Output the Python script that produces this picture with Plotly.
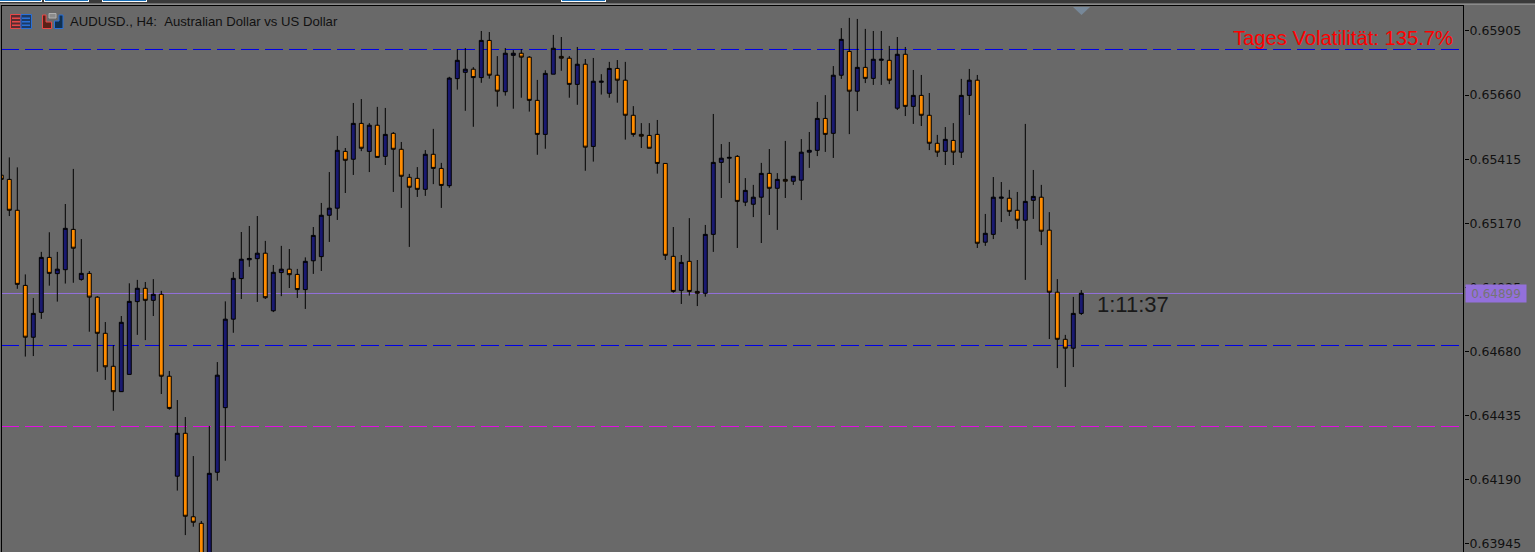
import plotly.graph_objects as go

# Prices are stored in points (1 point = 0.00001)
POINT = 1e-5
opens_pts = [65354,65338,65220,64933,64735,64830,65040,64978,64993,65147,64956,64979,64888,64750,64624,64527,64593,64871,64922,64876,
64899,64586,64204,64368,64049,64024,63852,64219,64466,64804,64959,65031,65035,65056,64836,64982,64995,64975,64917,65027,
65043,65201,65228,65445,65415,65552,65445,65545,65426,65514,65453,65346,65342,65300,65434,65380,65314,65723,65747,65759,
65727,65869,65736,65673,65812,65820,65805,65640,65510,65740,65808,65801,65701,65778,65464,65709,65667,65762,65717,65583,
65510,65506,65510,65399,65044,64914,65025,64910,64903,65128,65403,65419,65426,65251,65243,65270,65361,65304,65338,65331,
65335,65442,65449,65571,65514,65736,65827,65675,65766,65724,65793,65793,65610,65816,65617,65659,65583,65476,65445,65487,
65442,65659,65717,65098,65128,65266,65266,65220,65182,65258,65270,65144,64907,64727,64693,64826]
highs_pts = [65354,65422,65384,64975,64885,65061,65136,65061,65244,65378,65110,64988,64892,64793,64705,64816,64941,64954,64946,64957,
64912,64606,64495,64430,64281,64033,64396,64640,64872,64984,65137,65160,65198,65103,65011,65084,65072,64996,65040,65156,
65248,65366,65504,65458,65630,65645,65553,65615,65611,65519,65481,65359,65385,65450,65531,65401,65730,65835,65840,65767,
65905,65901,65809,65840,65832,65836,65809,65718,65755,65890,65882,65809,65844,65798,65802,65740,65787,65794,65787,65618,
65553,65553,65565,65399,65156,65049,65190,65030,65164,65588,65473,65481,65431,65343,65317,65401,65454,65362,65485,65350,
65492,65519,65634,65660,65771,65916,65955,65951,65913,65905,65905,65848,65882,65844,65756,65737,65668,65508,65538,65553,
65722,65760,65737,65206,65347,65328,65298,65290,65550,65374,65317,65213,64957,64744,64889,64915]
lows_pts = [65338,65198,64920,64661,64663,64805,64932,64871,64940,64943,64951,64756,64603,64572,64454,64526,64593,64744,64724,64816,
64518,64458,64149,63979,64011,63840,63840,64187,64263,64752,64881,65004,64870,64881,64831,64892,64923,64885,64843,64977,
64988,65099,65183,65286,65355,65446,65366,65422,65393,65290,65229,65080,65271,65275,65320,65229,65306,65681,65600,65539,
65707,65723,65616,65658,65608,65650,65597,65432,65455,65740,65753,65650,65623,65371,65406,65662,65650,65631,65490,65501,
65458,65457,65360,65030,64905,64862,64894,64854,64890,65061,65267,65324,65076,65236,65194,65095,65202,65145,65267,65317,
65259,65382,65427,65443,65420,65722,65511,65599,65706,65699,65699,65702,65603,65580,65550,65542,65450,65424,65393,65393,
65420,65584,65076,65084,65110,65175,65198,65149,64954,65187,65087,64728,64617,64545,64621,64820]
closes_pts = [65338,65220,64937,64735,64826,65040,64979,64995,65151,65075,64979,64888,64750,64622,64527,64792,64872,64922,64876,64899,
64586,64463,64368,64051,64028,63852,64215,64590,64804,64960,65033,65036,65056,64886,64983,64995,64974,64917,65025,65124,
65201,65228,65449,65411,65552,65457,65545,65422,65510,65453,65350,65308,65300,65434,65380,65315,65725,65793,65759,65727,
65869,65736,65675,65820,65820,65805,65640,65510,65743,65839,65801,65701,65778,65461,65713,65713,65762,65717,65583,65510,
65503,65457,65399,65048,64910,65021,64910,64903,65128,65403,65419,65422,65254,65296,65270,65361,65304,65338,65331,65350,
65442,65449,65571,65510,65736,65873,65675,65766,65724,65797,65797,65717,65816,65617,65659,65583,65476,65442,65491,65442,
65659,65717,65094,65132,65270,65270,65216,65182,65254,65273,65140,64907,64727,64693,64826,64903]
bar_index = list(range(len(opens_pts)))

tick_values = [0.65905, 0.65660, 0.65415, 0.65170, 0.64925, 0.64680, 0.64435, 0.64190, 0.63945]
level_prices = [0.658343, 0.647034]
magenta_price = 0.643939
bid_price = 0.649021
bid_label = "0.64899"
title_text = "AUDUSD., H4:\u00a0\u00a0Australian Dollar vs US Dollar"
vol_text = "Tages Volatilit\u00e4t: 135.7%"
timer_text = "1:11:37"

BG = "#696969"
W, H = 1535, 552
L, R, T, B = 1, 71, 5, 0
PW, PH = W - L - R, H - T - B

def px(x):
    return (x - L) / PW

def py(y):
    return 1 - (y - T) / PH

def rect(x0, y0, x1, y1, fill, line=None, lw=1):
    return dict(type="rect", xref="paper", yref="paper", x0=px(x0), x1=px(x1), y0=py(y0), y1=py(y1),
                fillcolor=fill, line=dict(color=line or fill, width=lw if line else 0), layer="above")

fig = go.Figure(go.Candlestick(
    x=bar_index,
    open=[v * POINT for v in opens_pts],
    high=[v * POINT for v in highs_pts],
    low=[v * POINT for v in lows_pts],
    close=[v * POINT for v in closes_pts],
    increasing=dict(line=dict(color="#000000", width=1), fillcolor="#191970"),
    decreasing=dict(line=dict(color="#000000", width=1), fillcolor="#FF8C00"),
    whiskerwidth=0,
    hoverinfo="skip",
    showlegend=False,
))

shapes = []
for p in level_prices:
    shapes.append(dict(type="line", xref="paper", yref="y", x0=0, x1=1, y0=p, y1=p, layer="below",
                       line=dict(color="#0000e6", width=1, dash="18px,6px")))
shapes.append(dict(type="line", xref="paper", yref="y", x0=0, x1=1, y0=magenta_price, y1=magenta_price, layer="below",
                   line=dict(color="#e010e0", width=1, dash="18px,6px")))
shapes.append(dict(type="line", xref="paper", yref="y", x0=0, x1=1, y0=bid_price, y1=bid_price, layer="below",
                   line=dict(color="#9370DB", width=1)))

# window chrome
shapes += [
    rect(0, 0, W, 3.5, "#3a3a3a"),
    rect(0, 3.5, W, 5, "#8a8a8a"),
    rect(0, 0, 42, 2, "#ffffff"), rect(0, 0, 41, 1, "#1a70b8"),
    rect(44, 0, 89, 2, "#ffffff"), rect(45, 0, 88, 1, "#1a70b8"),
    rect(102, 0, 147, 2, "#ffffff"), rect(103, 0, 146, 1, "#1a70b8"),
    rect(561, 0, 606, 2, "#ffffff"), rect(562, 0, 605, 1, "#1a70b8"),
    rect(1, 5, 2, H, "#000000"),
    rect(1, 5, 1464, 6, "#000000"),
    rect(1463, 5, 1464, H, "#000000"),
    # chart-shift marker
    dict(type="path", xref="paper", yref="paper", layer="above", fillcolor="#778899", line=dict(width=0),
         path=f"M {px(1073)},{py(7)} L {px(1090)},{py(7)} L {px(1081.5)},{py(15)} Z"),
    # toolbar icons
    rect(10.5, 14.5, 21, 28.5, "#5a2c30", "#e84848", 1),
    rect(21, 14.5, 31.5, 28.5, "#1c3a66", "#2a70d8", 1),
    rect(12, 17.5, 20, 19, "#e84848"), rect(12, 21, 20, 22.5, "#e84848"), rect(12, 24.5, 20, 26, "#e84848"),
    rect(22, 17.5, 30, 19, "#2a70d8"), rect(22, 21, 30, 22.5, "#2a70d8"), rect(22, 24.5, 30, 26, "#2a70d8"),
    dict(type="path", xref="paper", yref="paper", layer="above", fillcolor="#5a2018",
         line=dict(color="#e84848", width=1),
         path=f"M {px(42.5)},{py(15)} L {px(46)},{py(15)} L {px(46)},{py(22)} L {px(51.5)},{py(22)} L {px(51.5)},{py(28.5)} L {px(42.5)},{py(28.5)} Z"),
    dict(type="path", xref="paper", yref="paper", layer="above", fillcolor="#103050",
         line=dict(color="#2a70d8", width=1),
         path=f"M {px(59)},{py(15)} L {px(63)},{py(15)} L {px(63)},{py(28.5)} L {px(54.5)},{py(28.5)} L {px(54.5)},{py(21)} L {px(59)},{py(21)} Z"),
    rect(49, 13.5, 56, 18, "#8c8c8c", "#b0b0b0", 1),
]

annotations = [
    dict(xref="paper", yref="paper", x=px(69), y=py(22), text=title_text, showarrow=False, xanchor="left", yanchor="middle",
         font=dict(family="Liberation Sans", size=13.15, color="#111111"), borderpad=0),
    dict(xref="paper", yref="paper", x=px(1453.5), y=py(38), text=vol_text, showarrow=False, xanchor="right", yanchor="middle",
         font=dict(family="Liberation Sans", size=20.2, color="#ff0000"), borderpad=0),
    dict(xref="paper", yref="paper", x=px(1096), y=py(304.5), text=timer_text, showarrow=False, xanchor="left", yanchor="middle",
         font=dict(family="Liberation Sans", size=22, color="#1a1a1a"), borderpad=0),
    dict(xref="paper", yref="paper", x=px(1464.5), y=py(293.5), text=bid_label, showarrow=False, xanchor="left", yanchor="middle",
         font=dict(family="DejaVu Sans", size=12, color="#757575"), bgcolor="#9370DB", borderpad=2, width=56, height=13),
]

fig.update_layout(
    width=W, height=H, margin=dict(l=L, r=R, t=T, b=B),
    paper_bgcolor=BG, plot_bgcolor=BG, boxgap=0.3,
    hovermode=False, shapes=shapes, annotations=annotations, showlegend=False,
    xaxis=dict(range=[-0.0375, 182.8375], visible=False, rangeslider=dict(visible=False), fixedrange=True),
    yaxis=dict(side="right", range=[0.639144, 0.660043], tickmode="array", tickvals=tick_values,
               ticktext=[f"{v:.5f}" for v in tick_values], showgrid=False, zeroline=False,
               ticks="outside", ticklen=4, tickwidth=1, tickcolor="#000000", showline=False, ticklabelstandoff=-2,
               tickfont=dict(family="DejaVu Sans", size=12.5, color="#111111"), fixedrange=True),
)

fig.write_html("out.html", config={"displayModeBar": False},
               post_script="document.body.style.margin='0';document.body.style.overflow='hidden';")
